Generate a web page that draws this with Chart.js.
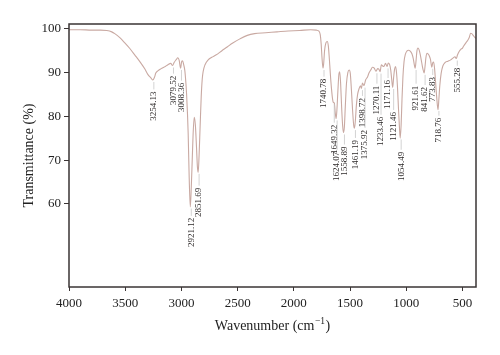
<!DOCTYPE html>
<html><head><meta charset="utf-8">
<script src="https://cdn.jsdelivr.net/npm/chart.js@4/dist/chart.umd.min.js"></script>
<style>html,body{margin:0;padding:0;background:#fff;}#wrap{width:500px;height:355px;}</style>
</head><body><div id="wrap"><canvas id="c" width="500" height="355"></canvas></div>
<script>
const wavenumbers = [4000,3900,3800,3720,3664,3620,3593,3548,3504,3459,3414,3370,3325,3299,3272,3254,3240,3228,3210,3180,3150,3120,3095,3079,3065,3045,3032,3020,3008,2998,2990,2980,2970,2960,2954,2946,2940,2931,2921,2912,2904,2896,2886,2876,2866,2858,2851,2843,2834,2824,2815,2807,2790,2762,2730,2694,2640,2590,2547,2480,2414,2350,2250,2150,2050,1950,1850,1800,1775,1765,1757,1750,1741,1735,1727,1715,1703,1693,1684,1675,1666,1656,1649,1640,1632,1624,1617,1609,1600,1592,1584,1575,1566,1559,1551,1542,1532,1520,1508,1498,1488,1478,1468,1461,1453,1444,1433,1420,1408,1399,1390,1376,1362,1345,1332,1316,1301,1285,1270,1255,1244,1233,1222,1210,1199,1185,1171,1160,1148,1138,1130,1121,1113,1104,1095,1087,1078,1070,1062,1054,1046,1038,1030,1020,1008,995,980,965,950,938,928,921,913,905,897,886,875,863,852,841,833,825,815,805,795,785,773,765,757,748,740,730,718,710,702,690,675,655,630,605,585,567,555,545,530,515,500,491,470,455,440,428,418,405,392,380];
const transmittance = [99.8,99.8,99.7,99.7,99.6,99.3,98.9,98.0,96.8,95.5,94.0,92.5,90.8,89.6,88.8,88.3,88.9,89.9,90.4,90.9,91.3,91.8,92.1,91.6,92.3,93.0,93.4,92.8,91.0,92.5,92.7,91.8,90.5,87.5,85.0,80.5,76.0,66.0,59.3,64.0,70.0,76.0,79.8,78.0,73.0,68.5,67.2,71.0,77.5,84.5,88.5,90.2,91.8,92.9,93.5,94.0,95.0,95.9,96.7,97.7,98.5,98.9,99.1,99.3,99.5,99.6,99.8,99.7,99.4,98.6,96.5,93.5,91.0,92.0,95.0,96.8,97.1,96.0,93.0,89.5,86.5,84.0,83.2,83.0,80.8,79.5,81.5,85.5,89.5,90.2,87.5,82.0,77.8,76.3,77.5,82.5,87.5,90.0,90.6,89.8,86.0,81.5,78.0,77.3,79.0,82.5,85.0,86.3,87.0,86.4,87.6,87.0,88.3,89.0,89.9,90.6,91.2,91.0,90.3,90.9,90.8,90.2,91.8,91.5,91.4,92.1,91.4,92.2,91.8,90.5,88.5,86.6,88.8,90.8,91.4,90.0,86.5,82.0,78.0,75.0,78.0,84.0,89.0,92.5,94.2,94.9,95.1,94.9,94.3,93.2,91.7,91.0,92.8,95.0,95.6,95.2,94.0,92.3,90.8,89.9,91.5,93.5,94.4,94.2,93.8,93.0,91.2,92.2,92.4,90.8,88.0,84.5,81.5,84.0,87.0,89.8,91.5,92.3,92.6,92.9,93.3,93.6,93.2,94.0,94.8,95.3,95.6,96.0,96.8,97.3,98.0,99.0,98.9,98.5,98.1,97.8];
const peakWavenumbers = [3254.13,3079.52,3008.36,2921.12,2851.69,1740.78,1649.32,1624.07,1558.89,1461.19,1398.72,1375.92,1270.11,1233.46,1171.16,1121.46,1054.49,921.61,841.62,773.83,718.76,555.28];
const peakLabels = ["3254.13","3079.52","3008.36","2921.12","2851.69","1740.78","1649.32","1624.07","1558.89","1461.19","1398.72","1375.92","1270.11","1233.46","1171.16","1121.46","1054.49","921.61","841.62","773.83","718.76","555.28"];
const peakLabelLevels = [85.7,89.3,87.7,56.8,63.7,88.6,78.1,71.9,73.1,74.6,84.2,76.9,87.0,79.9,88.3,81.0,71.9,87.0,86.7,89.0,79.7,91.1];
const xTicks = [4000,3500,3000,2500,2000,1500,1000,500];
const yTicks = [60,70,80,90,100];

const SERIF = "'Liberation Serif','Times New Roman',serif";

function curveAt(wn){
  for(let i=0;i<wavenumbers.length-1;i++){
    const a=wavenumbers[i], b=wavenumbers[i+1];
    if(wn<=a && wn>=b){ const t=(a-wn)/(a-b); return transmittance[i]+(transmittance[i+1]-transmittance[i])*t; }
  }
  return transmittance[transmittance.length-1];
}

const framePlugin = {
  id:'frame',
  afterDatasetsDraw(chart){
    const {ctx, chartArea:a, scales} = chart;
    const xs = scales.x, ys = scales.y;
    ctx.save();
    // peak labels
    ctx.font = "9px " + SERIF;
    ctx.fillStyle = '#2e2a2a';
    for(let i=0;i<peakWavenumbers.length;i++){
      const x = xs.getPixelForValue(peakWavenumbers[i]) + 1;
      const yTop = ys.getPixelForValue(peakLabelLevels[i]);
      const yCurve = ys.getPixelForValue(curveAt(peakWavenumbers[i]));
      if(yTop - yCurve > 5){
        ctx.strokeStyle = '#c8c8c8'; ctx.lineWidth = 0.8;
        ctx.beginPath(); ctx.moveTo(x, yCurve+2); ctx.lineTo(x, yTop-2); ctx.stroke();
      }
      ctx.save();
      ctx.translate(x, yTop);
      ctx.rotate(-Math.PI/2);
      ctx.textAlign='right'; ctx.textBaseline='middle';
      ctx.fillText(peakLabels[i], 0, 0);
      ctx.restore();
    }
    // frame
    ctx.strokeStyle = '#3a3434'; ctx.lineWidth = 1.5;
    ctx.strokeRect(a.left, a.top, a.right-a.left, a.bottom-a.top);
    // x title with superscript
    const cx = (a.left+a.right)/2, cy = 325;
    ctx.fillStyle = '#222';
    const f1 = "14px " + SERIF, f2 = "9.5px " + SERIF;
    const p1 = "Wavenumber (cm", p2 = "\u22121", p3 = ")";
    ctx.font = f1; const w1 = ctx.measureText(p1).width, w3 = ctx.measureText(p3).width;
    ctx.font = f2; const w2 = ctx.measureText(p2).width;
    let sx = cx - (w1+w2+w3+1)/2;
    ctx.textBaseline='alphabetic'; ctx.textAlign='left';
    ctx.font = f1; ctx.fillText(p1, sx, cy+5);
    ctx.font = f2; ctx.fillText(p2, sx+w1+0.5, cy-1);
    ctx.font = f1; ctx.fillText(p3, sx+w1+w2+1, cy+5);
    ctx.restore();
  }
};

new Chart(document.getElementById('c'), {
  type:'line',
  data:{ datasets:[{
    data: wavenumbers.map((w,i)=>({x:w, y:transmittance[i]})),
    borderColor:'#c9a9a2', borderWidth:1.1, pointRadius:0, fill:false,
    cubicInterpolationMode:'monotone'
  }]},
  options:{
    responsive:false, animation:false, devicePixelRatio:1,
    layout:{padding:{top:24,right:24,left:0,bottom:0}},
    plugins:{legend:{display:false}, tooltip:{enabled:false}},
    scales:{
      x:{ type:'linear', reverse:true, min:380, max:4000,
        afterBuildTicks:s=>{ s.ticks = xTicks.map(v=>({value:v})); },
        afterFit:s=>{ s.height = 68; },
        grid:{drawOnChartArea:false, tickLength:4, color:'#3a3434', tickWidth:1},
        border:{display:false},
        ticks:{font:{family:SERIF,size:13}, color:'#222', padding:5, maxRotation:0, autoSkip:false, callback:v=>String(v)}
      },
      y:{ min:41, max:101.1,
        afterBuildTicks:s=>{ s.ticks = yTicks.map(v=>({value:v})); },
        afterFit:s=>{ s.width = 69; },
        grid:{drawOnChartArea:false, tickLength:5, color:'#3a3434', tickWidth:1},
        border:{display:false},
        ticks:{font:{family:SERIF,size:13}, color:'#222', padding:3, callback:v=>String(v)},
        title:{display:true, text:'Transmittance (%)', font:{family:SERIF,size:14}, color:'#222', padding:{top:21,bottom:0}}
      }
    }
  },
  plugins:[framePlugin]
});
</script></body></html>
